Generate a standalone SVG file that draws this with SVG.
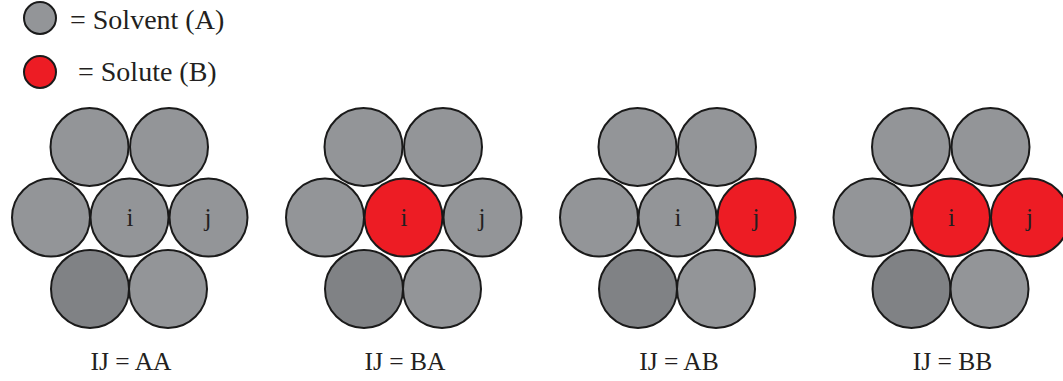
<svg xmlns="http://www.w3.org/2000/svg" width="1063" height="381" viewBox="0 0 1063 381">
<style>
.a{fill:#939598;stroke:#1a1a1a;stroke-width:2}
.d{fill:#808285;stroke:#1a1a1a;stroke-width:2}
.b{fill:#ED1C24;stroke:#1a1a1a;stroke-width:2}
.t{font-family:"Liberation Serif","DejaVu Serif",serif;fill:#231f20}
.ij{font-size:25px;text-anchor:middle}
.lab{font-size:25.5px;text-anchor:middle}
.leg{font-size:28px}
</style>
<rect width="1063" height="381" fill="#fff"/>
<g id="legend">
<circle class="a" cx="40" cy="18" r="16"/>
<text class="t leg" x="70" y="29">= Solvent (A)</text>
<circle class="b" cx="40" cy="72" r="16"/>
<text class="t leg" x="78" y="81">= Solute (B)</text>
</g>
<g id="panel-AA">
<circle class="a" cx="89.5" cy="147" r="39"/>
<circle class="a" cx="169" cy="147" r="39"/>
<circle class="a" cx="51" cy="217.5" r="39"/>
<circle class="a" cx="129.5" cy="217.5" r="39"/>
<circle class="a" cx="208.5" cy="217.5" r="39"/>
<circle class="d" cx="90" cy="289" r="39"/>
<circle class="a" cx="168" cy="289" r="39"/>
<text class="t ij" x="130" y="226">i</text>
<text class="t ij" x="208" y="226">j</text>
<text class="t lab" x="131" y="370">IJ = AA</text>
</g>
<g id="panel-BA" transform="translate(274,0)">
<circle class="a" cx="89.5" cy="147" r="39"/>
<circle class="a" cx="169" cy="147" r="39"/>
<circle class="a" cx="51" cy="217.5" r="39"/>
<circle class="b" cx="129.5" cy="217.5" r="39"/>
<circle class="a" cx="208.5" cy="217.5" r="39"/>
<circle class="d" cx="90" cy="289" r="39"/>
<circle class="a" cx="168" cy="289" r="39"/>
<text class="t ij" x="130" y="226">i</text>
<text class="t ij" x="208" y="226">j</text>
<text class="t lab" x="131" y="370">IJ = BA</text>
</g>
<g id="panel-AB" transform="translate(548,0)">
<circle class="a" cx="89.5" cy="147" r="39"/>
<circle class="a" cx="169" cy="147" r="39"/>
<circle class="a" cx="51" cy="217.5" r="39"/>
<circle class="a" cx="129.5" cy="217.5" r="39"/>
<circle class="b" cx="208.5" cy="217.5" r="39"/>
<circle class="d" cx="90" cy="289" r="39"/>
<circle class="a" cx="168" cy="289" r="39"/>
<text class="t ij" x="130" y="226">i</text>
<text class="t ij" x="208" y="226">j</text>
<text class="t lab" x="131" y="370">IJ = AB</text>
</g>
<g id="panel-BB" transform="translate(821.5,0)">
<circle class="a" cx="89.5" cy="147" r="39"/>
<circle class="a" cx="169" cy="147" r="39"/>
<circle class="a" cx="51" cy="217.5" r="39"/>
<circle class="b" cx="129.5" cy="217.5" r="39"/>
<circle class="b" cx="208.5" cy="217.5" r="39"/>
<circle class="d" cx="90" cy="289" r="39"/>
<circle class="a" cx="168" cy="289" r="39"/>
<text class="t ij" x="130" y="226">i</text>
<text class="t ij" x="208" y="226">j</text>
<text class="t lab" x="131" y="370">IJ = BB</text>
</g>
</svg>
